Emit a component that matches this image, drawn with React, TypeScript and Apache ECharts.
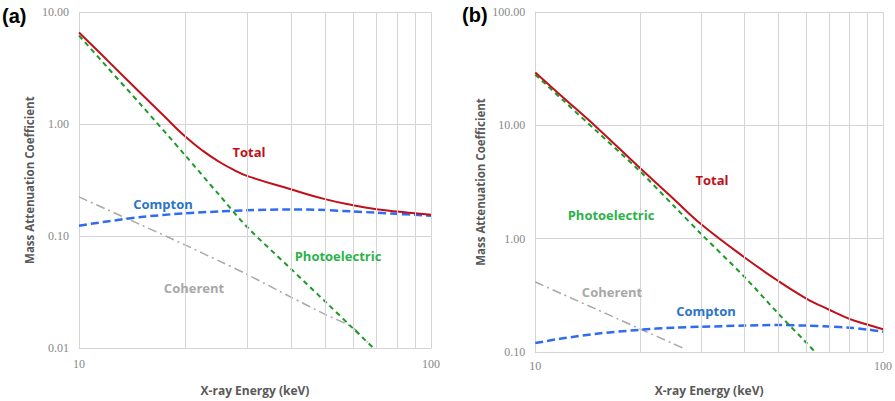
import React, { useEffect, useRef } from "react";
import * as echarts from "echarts";

// ---- Panel (a) data ----
const energiesA = [10, 12, 15, 17.5, 20, 22.5, 25, 27.5, 30, 40, 50, 60, 70, 80, 90, 100];
const totalA = [6.6, 3.76, 1.88, 1.17, 0.78, 0.577, 0.462, 0.391, 0.345, 0.262, 0.214, 0.189, 0.174, 0.166, 0.16, 0.155];
const comptonEnergiesA = [10, 12, 15, 20, 25, 30, 40, 50, 60, 70, 80, 90, 100];
const comptonA = [0.124, 0.135, 0.148, 0.16, 0.166, 0.17, 0.173, 0.171, 0.166, 0.162, 0.158, 0.155, 0.152];
const photoEnergiesA = [10, 12, 15, 20, 25, 30, 40, 50, 60, 70];
const photoA = [6.2, 3.26, 1.49, 0.53, 0.234, 0.121, 0.051, 0.0261, 0.015, 0.0094];
const coherentEnergiesA = [10, 12, 15, 20, 25, 30, 40, 50, 60, 66];
const coherentA = [0.224, 0.173, 0.126, 0.0834, 0.06, 0.0455, 0.0285, 0.02, 0.0152, 0.0112];

// ---- Panel (b) data ----
const energiesB = [10, 12, 15, 20, 25, 30, 40, 50, 60, 70, 80, 90, 100];
const totalB = [29.2, 17.7, 9.63, 4.2, 2.24, 1.34, 0.682, 0.423, 0.298, 0.236, 0.196, 0.175, 0.159];
const comptonB = [0.12, 0.132, 0.145, 0.157, 0.164, 0.167, 0.171, 0.173, 0.171, 0.168, 0.164, 0.158, 0.151];
const photoEnergiesB = [10, 12, 15, 20, 25, 30, 40, 50, 60, 65];
const photoB = [28, 16.7, 8.9, 3.93, 1.95, 1.1, 0.458, 0.218, 0.122, 0.094];
const coherentEnergiesB = [10, 12, 15, 20, 25, 27.2];
const coherentB = [0.415, 0.323, 0.238, 0.16, 0.118, 0.105];

// minor vertical gridlines
const minorX = [20, 30, 40, 50, 60, 70, 80, 90];

const pairs = (xs: number[], ys: number[]) => xs.map((x, i) => [x, ys[i]]);

const RED = "#c0101a";
const GREEN = "#1c9a26";
const BLUE = "#2f6cf0";
const GRAY = "#a8a8a8";
const GRID = "#d4d4d4";
const TICK_FONT = "Liberation Serif";
const FONT = "Open Sans";

export default function App() {
  const ref = useRef<HTMLDivElement>(null);
  useEffect(() => {
    document.body.style.margin = "0";
    const chart = echarts.init(ref.current!, undefined, { renderer: "svg" });

    const xAxis = (gridIndex: number, gap: number, labelMargin: number) => ({
      type: "log",
      logBase: 10,
      gridIndex,
      min: 10,
      max: 100,
      name: "X-ray Energy (keV)",
      nameLocation: "middle",
      nameGap: gap,
      nameTextStyle: { color: "#595959", fontFamily: FONT, fontWeight: "bold", fontSize: 12 },
      axisLine: { show: true, lineStyle: { color: GRID, width: 1 } },
      axisTick: { show: false },
      axisLabel: { color: "#888", fontFamily: TICK_FONT, fontSize: 12, margin: labelMargin, formatter: (v: number) => String(Math.round(v)) },
      splitLine: { show: true, lineStyle: { color: GRID, width: 1 } },
      minorTick: { show: false },
      minorSplitLine: { show: false },
    });

    const yAxis = (gridIndex: number, min: number, max: number, gap: number) => ({
      type: "log",
      logBase: 10,
      gridIndex,
      min,
      max,
      name: "Mass Attenuation Coefficient",
      nameLocation: "middle",
      nameGap: gap,
      nameRotate: 90,
      nameTextStyle: { color: "#595959", fontFamily: FONT, fontWeight: "bold", fontSize: 11.5 },
      axisLine: { show: true, lineStyle: { color: GRID, width: 1 } },
      axisTick: { show: false },
      axisLabel: { color: "#888", fontFamily: TICK_FONT, fontSize: 12, margin: 10, formatter: (v: number) => v.toFixed(2) },
      splitLine: { show: true, lineStyle: { color: GRID, width: 1 } },
    });

    const gridSeries = (idx: number) => ({
      type: "line",
      xAxisIndex: idx,
      yAxisIndex: idx,
      data: [],
      z: 1,
      silent: true,
      markLine: {
        silent: true,
        symbol: "none",
        label: { show: false },
        lineStyle: { color: GRID, type: "solid", width: 1 },
        data: minorX.map((x) => ({ xAxis: x })),
        animation: false,
      },
    });

    const lineS = (idx: number, name: string, data: number[][], color: string, type: any, width: number, smooth = 0.3) => ({
      type: "line",
      name,
      xAxisIndex: idx,
      yAxisIndex: idx,
      data,
      smooth,
      showSymbol: false,
      symbol: "none",
      z: 3,
      lineStyle: { color, type, width, cap: "butt" },
    });

    const label = (text: string, x: number, y: number, color: string) => ({
      type: "text",
      x,
      y,
      style: { text, fill: color, font: `bold 13px '${FONT}'`, textAlign: "center", textVerticalAlign: "middle" },
      z: 10,
    });

    chart.setOption({
      animation: false,
      backgroundColor: "#fff",
      grid: [
        { left: 79, top: 12.3, width: 352, height: 341, containLabel: false },
        { left: 535.3, top: 12, width: 356, height: 348, containLabel: false },
      ],
      xAxis: [xAxis(0, 36, 10), xAxis(1, 32, 8)],
      yAxis: [yAxis(0, 0.01, 10, 44), yAxis(1, 0.1, 100, 49)],
      series: [
        gridSeries(0),
        gridSeries(1),
        lineS(0, "Coherent", pairs(coherentEnergiesA, coherentA), GRAY, [9, 4, 2, 4], 1.5),
        lineS(0, "Compton", pairs(comptonEnergiesA, comptonA), BLUE, [8, 4], 2.5),
        lineS(0, "Photoelectric", pairs(photoEnergiesA, photoA), GREEN, [5, 4], 2),
        lineS(0, "Total", pairs(energiesA, totalA), RED, "solid", 2, 0.5),
        lineS(1, "Coherent", pairs(coherentEnergiesB, coherentB), GRAY, [9, 4, 2, 4], 1.5),
        lineS(1, "Compton", pairs(energiesB, comptonB), BLUE, [8, 4], 2.5),
        lineS(1, "Photoelectric", pairs(photoEnergiesB, photoB), GREEN, [5, 4], 2),
        lineS(1, "Total", pairs(energiesB, totalB), RED, "solid", 2, 0.4),
      ],
      graphic: [
        { type: "text", x: 2, y: 16, style: { text: "(a)", fill: "#000", font: "bold 20px 'Liberation Sans'", textVerticalAlign: "middle" } },
        { type: "text", x: 462, y: 15, style: { text: "(b)", fill: "#000", font: "bold 20px 'Liberation Sans'", textVerticalAlign: "middle" } },
        label("Total", 249, 152, RED),
        label("Compton", 163, 204, "#2b74c8"),
        label("Photoelectric", 338, 256, "#2db24a"),
        label("Coherent", 194, 288, GRAY),
        label("Total", 712, 180, RED),
        label("Photoelectric", 611, 215, "#2db24a"),
        label("Coherent", 612, 292, GRAY),
        label("Compton", 706, 311, "#2b74c8"),
      ],
    });
    return () => chart.dispose();
  }, []);
  return <div ref={ref} style={{ width: 895, height: 401 }} />;
}
